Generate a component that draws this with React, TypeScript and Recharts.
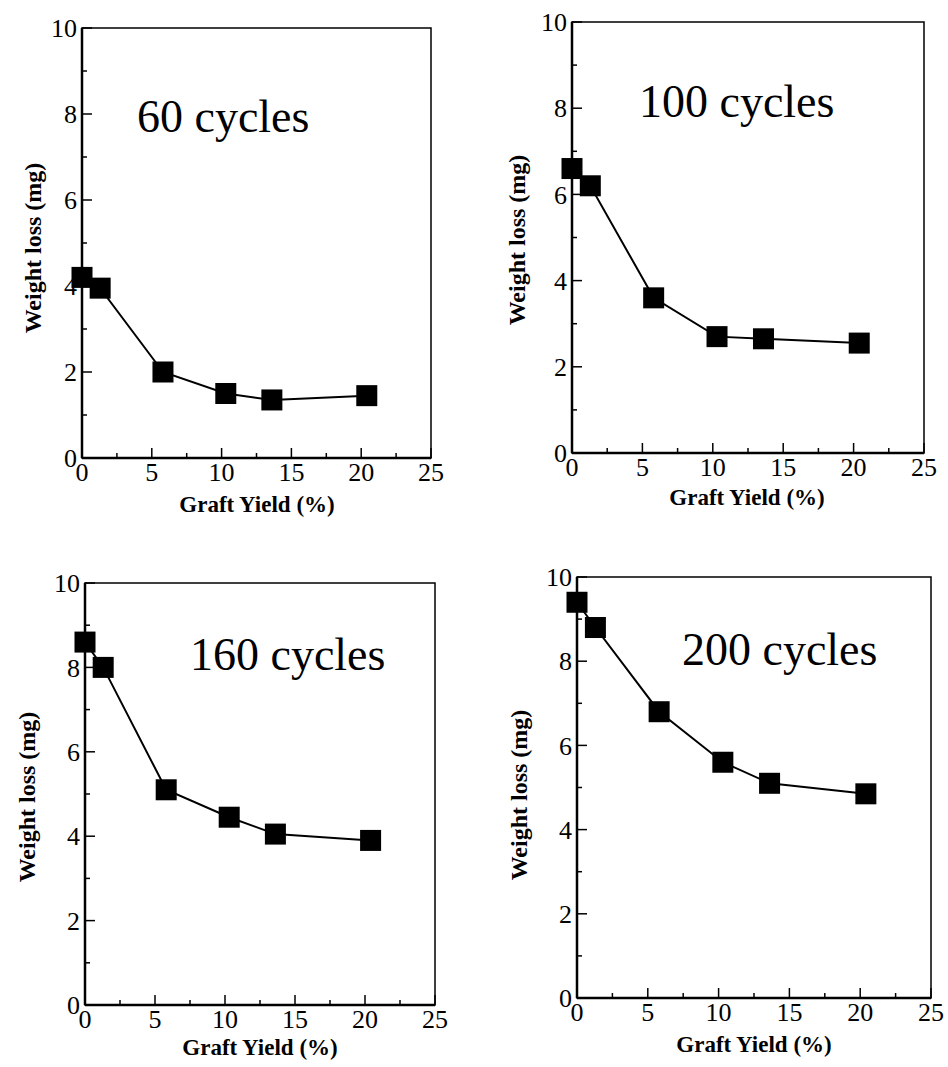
import React from 'react';
import { LineChart, Line, XAxis, YAxis, ReferenceArea } from 'recharts';

const graftYield = [0, 1.3, 5.8, 10.3, 13.6, 20.4];
const loss60 = [4.2, 3.95, 2.0, 1.5, 1.35, 1.45];
const loss100 = [6.6, 6.2, 3.6, 2.7, 2.65, 2.55];
const loss160 = [8.6, 8.0, 5.1, 4.45, 4.05, 3.9];
const loss200 = [9.4, 8.8, 6.8, 5.6, 5.1, 4.85];

const xTicks = [0, 2.5, 5, 7.5, 10, 12.5, 15, 17.5, 20, 22.5, 25];
const yTicks = [0, 1, 2, 3, 4, 5, 6, 7, 8, 9, 10];

const SERIF = '"Liberation Serif", "Times New Roman", serif';

const panels = [
  { title: '60 cycles', values: loss60, x0: 82, x25: 431, y10: 28, y0: 458, tx: 137, ty: 132, yl: [33, 248], xl: [257, 512] },
  { title: '100 cycles', values: loss100, x0: 572, x25: 924, y10: 22, y0: 453, tx: 639, ty: 117, yl: [517, 240], xl: [747, 505] },
  { title: '160 cycles', values: loss160, x0: 85, x25: 435, y10: 583, y0: 1005, tx: 190, ty: 670, yl: [27, 797], xl: [260, 1055] },
  { title: '200 cycles', values: loss200, x0: 577, x25: 931, y10: 577, y0: 998, tx: 682, ty: 665, yl: [519, 795], xl: [754, 1052] },
];

const XTick = (props: any) => {
  const { x, y, payload } = props;
  const v = payload.value;
  const major = v % 5 === 0;
  return (
    <g>
      <line x1={x} y1={y} x2={x} y2={y - (major ? 10 : 5)} stroke="#000" strokeWidth={1.5} />
      {major && (
        <text x={x} y={y + 23} textAnchor="middle" fontFamily={SERIF} fontSize={26} fill="#000">
          {v}
        </text>
      )}
    </g>
  );
};

const YTick = (props: any) => {
  const { x, y, payload } = props;
  const v = payload.value;
  const major = v % 2 === 0;
  return (
    <g>
      <line x1={x} y1={y} x2={x + (major ? 10 : 5)} y2={y} stroke="#000" strokeWidth={1.5} />
      {major && (
        <text x={x - 5} y={y} dy="0.35em" textAnchor="end" fontFamily={SERIF} fontSize={26} fill="#000">
          {v}
        </text>
      )}
    </g>
  );
};

const SquareDot = (props: any) => {
  const { cx, cy } = props;
  if (cx == null || cy == null) return null;
  return <rect x={cx - 10.5} y={cy - 10.5} width={21} height={21} fill="#000" />;
};

const Panel = ({ p }: { p: any }) => {
  const data = graftYield.map((g, i) => ({ x: g, y: p.values[i] }));
  const w = p.x25 - p.x0 + 100;
  const h = p.y0 - p.y10 + 80;
  return (
    <div style={{ position: 'absolute', left: p.x0 - 80, top: p.y10 - 40 }}>
      <LineChart width={w} height={h} data={data} margin={{ top: 40, right: 20, bottom: 0, left: 0 }}>
        <XAxis
          dataKey="x"
          type="number"
          domain={[0, 25]}
          ticks={xTicks}
          interval={0}
          height={40}
          tickSize={0}
          tickMargin={0}
          tickLine={false}
          axisLine={{ stroke: '#000', strokeWidth: 2.5 }}
          tick={<XTick />}
        />
        <YAxis
          type="number"
          domain={[0, 10]}
          ticks={yTicks}
          interval={0}
          width={80}
          tickSize={0}
          tickMargin={0}
          tickLine={false}
          axisLine={{ stroke: '#000', strokeWidth: 2.5 }}
          tick={<YTick />}
        />
        <ReferenceArea x1={0} x2={25} y1={0} y2={10} fill="none" stroke="#000" strokeWidth={1.5} />
        <Line
          type="linear"
          dataKey="y"
          stroke="#000"
          strokeWidth={2}
          dot={<SquareDot />}
          activeDot={false}
          isAnimationActive={false}
        />
      </LineChart>
    </div>
  );
};

export default function App() {
  return (
    <div style={{ position: 'absolute', left: 0, top: 0, width: 948, height: 1067, background: '#fff' }}>
      {panels.map((p) => (
        <Panel key={p.title} p={p} />
      ))}
      <svg width={948} height={1067} style={{ position: 'absolute', left: 0, top: 0, pointerEvents: 'none' }}>
        {panels.map((p) => (
          <g key={p.title}>
            <text x={p.tx} y={p.ty} fontFamily={SERIF} fontSize={46} fill="#000">
              {p.title}
            </text>
            <text
              x={p.yl[0]}
              y={p.yl[1]}
              transform={`rotate(-90, ${p.yl[0]}, ${p.yl[1]})`}
              textAnchor="middle"
              dy="0.35em"
              fontFamily={SERIF}
              fontWeight="bold"
              fontSize={24}
              fill="#000"
            >
              Weight loss (mg)
            </text>
            <text x={p.xl[0]} y={p.xl[1]} textAnchor="middle" fontFamily={SERIF} fontWeight="bold" fontSize={23} fill="#000">
              Graft Yield (%)
            </text>
          </g>
        ))}
      </svg>
    </div>
  );
}
